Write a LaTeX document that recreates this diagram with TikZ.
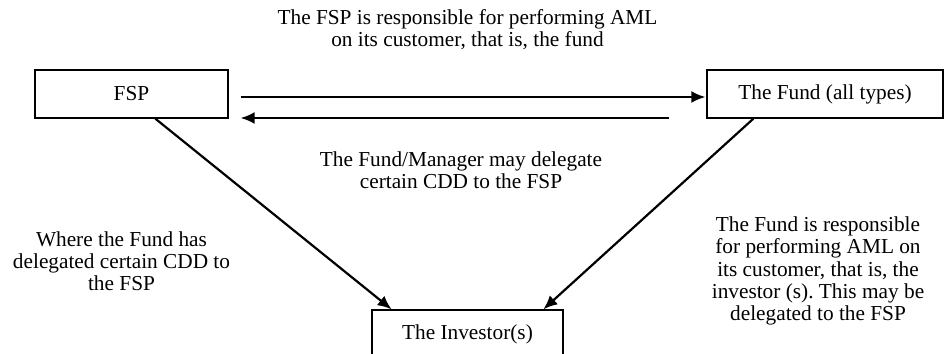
\documentclass[tikz,border=0pt]{standalone}
\usepackage{fontspec}
\setmainfont{Liberation Serif}
\usetikzlibrary{arrows.meta}
\frenchspacing

\begin{document}
\begin{tikzpicture}[x=1pt,y=-1pt,
                note/.style={align=center,inner sep=0pt,font=\fontsize{21.3}{22.2}\selectfont},
                box/.style={note,draw,line width=1.3pt,minimum height=48pt},
                link/.style={-{Latex[length=14pt,width=12pt]},line width=2.2pt}]
  \useasboundingbox[fill=white] (0,0) rectangle (944,353);
  % the three parties
  \node[box,minimum width=193pt] (fsp)  at (131.5,94) {FSP};
  \node[box,minimum width=236pt] (fund) at (825,94)   {The Fund (all types)};
  \node[box,minimum width=191pt] (inv)  at (467.5,334) {The Investor(s)};
  % texts
  \node[note] (toptext)   at (467.5,30)  {The FSP is responsible for performing AML\\on its customer, that is, the fund};
  \node[note] (midtext)   at (461,170)   {The Fund/Manager may delegate\\certain CDD to the FSP};
  \node[note] (lefttext)  at (121.5,261) {Where the Fund has\\delegated certain CDD to\\the FSP};
  \node[note] (righttext) at (818,271)   {The Fund is responsible\\for performing AML on\\its customer, that is, the\\investor (s). This may be\\delegated to the FSP};
  % arrows
  \draw[link] ([shift={(12,3)}]fsp.east) -- ([shift={(-1,3)}]fund.west);
  \draw[link] ([shift={(-37,24)}]fund.west) -- ([shift={(12,24)}]fsp.east);
  \draw[link] (fsp.-46) -- (inv.162);
  \draw[link] (fund.-161) -- (inv.18);
\end{tikzpicture}
\end{document}
